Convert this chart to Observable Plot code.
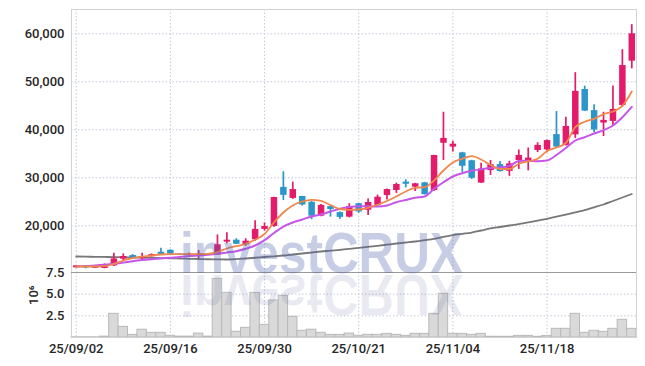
<!DOCTYPE html>
<html>
<head>
<meta charset="utf-8">
<script src="https://cdn.jsdelivr.net/npm/d3@7"></script>
<script src="https://cdn.jsdelivr.net/npm/@observablehq/plot@0.6"></script>
<style>
  html, body { margin: 0; padding: 0; background: #fff; }
  #wrap { position: relative; width: 645px; height: 366px; overflow: hidden; }
  #wrap > svg, #wrap > figure { position: absolute; left: 0; margin: 0; }
  #wm { position: absolute; left: 0; top: 0; pointer-events: none; }
</style>
</head>
<body>
<div id="wrap"></div>
<script>
const dates = ["25/09/02","25/09/03","25/09/04","25/09/05","25/09/08","25/09/09","25/09/10","25/09/11","25/09/12","25/09/15",
  "25/09/16","25/09/17","25/09/18","25/09/19","25/09/22","25/09/23","25/09/24","25/09/25","25/09/26","25/09/29",
  "25/09/30","25/10/01","25/10/02","25/10/10","25/10/13","25/10/14","25/10/15","25/10/16","25/10/17","25/10/20",
  "25/10/21","25/10/22","25/10/23","25/10/24","25/10/27","25/10/28","25/10/29","25/10/30","25/10/31","25/11/03",
  "25/11/04","25/11/05","25/11/06","25/11/07","25/11/10","25/11/11","25/11/12","25/11/13","25/11/14","25/11/17",
  "25/11/18","25/11/19","25/11/20","25/11/21","25/11/24","25/11/25","25/11/26","25/11/27","25/11/28","25/12/01"];

const openP  = [11250,11550,11150,11100,11650,13050,13800,13150,13550,14500,14900,14100,13900,13650,14150,13950,16600,17000,16050,17100,
  19250,19850,28000,25700,26100,24900,22000,24000,22750,21800,24600,23250,24250,26300,27350,29100,28050,28950,27350,37200,
  36400,35200,33550,28900,31500,32750,31350,33600,33250,35700,35800,39000,36750,38950,48400,44000,41400,41750,45050,54300];
const highP  = [11700,11600,11600,12050,14300,14150,14000,14300,14150,15300,15000,14200,14300,14850,14250,18100,18550,17300,17300,21050,
  20600,25950,31250,29100,26150,25050,24450,24100,22850,24600,24650,25600,26400,27650,28900,29600,28850,29050,34700,43650,
  37600,35300,33650,33050,33600,33400,33450,35800,36200,37300,37850,43800,42600,51900,49100,45200,43650,49100,56700,61900];
const lowP   = [11200,11050,11100,11050,11500,12650,13150,12900,13500,13950,14050,13800,13800,13150,13900,13800,16250,16100,15750,16800,
  18900,19700,25250,25500,24100,21250,21900,21800,21300,21650,22600,22150,24100,25400,26750,27900,27150,26400,27150,33600,
  35400,31100,29650,28800,30500,31200,30300,31750,31450,35250,35200,36300,36600,38200,43800,39400,38600,40900,44700,52700];
const closeP = [11650,11200,11500,11800,13100,13600,13250,13600,14000,14000,14100,13900,14100,14150,14000,16050,17000,16150,16800,19250,
  19850,25900,26350,27550,24350,22000,24250,23400,21750,24000,22900,24850,25950,27550,28600,28650,28750,26500,34650,38200,
  37000,32400,29900,31850,32700,31300,32900,34650,34100,36750,37750,36400,40700,48000,43900,39950,41950,44250,53400,60000];

const ma5 = [11520,11520,11520,11580,12080,12770,13290,13600,13810,14020,14120,14080,14080,14080,14170,14540,15270,15750,16250,17080,
  18290,20690,22770,24230,25060,25420,25170,24330,23500,23330,23400,23750,24380,25170,26100,27150,27920,28040,29440,31520,
  33190,33960,34500,33810,32670,31830,31830,32920,33400,33960,35580,36310,37250,40540,41670,42290,43250,43810,44960,47980];
const ma10 = [11520,11620,11730,11880,12080,12350,12620,12880,13040,13190,13350,13500,13710,13810,13960,14170,14440,14710,15210,15900,
  17000,18500,19850,20690,21310,21940,22350,22980,23540,23920,24060,24060,24020,24230,24920,25380,25830,26100,27710,29080,
  30270,30960,31460,31770,32040,32150,32460,33500,33540,33460,33600,34750,36210,37770,38460,39230,39920,40900,42630,44790];
const maLong = [13600,13570,13540,13510,13480,13440,13400,13350,13310,13270,13230,13180,13130,13080,13030,13000,12980,13050,13190,13340,
  13500,13650,13810,14020,14230,14440,14650,14820,15000,15210,15420,15620,15830,16070,16310,16520,16730,17000,17290,17690,
  18080,18340,18600,19020,19440,19750,20060,20370,20690,21070,21460,21900,22350,22820,23290,23860,24440,25170,25900,26630];

const volume = [0.02,0.02,0.02,0.1,2.73,1.23,0.3,0.9,0.54,0.54,0.2,0.1,0.1,0.45,0.1,6.77,5.15,0.66,1.12,5.15,
  1.46,4.27,4.8,2.38,0.77,0.9,0.54,0.3,0.3,0.45,0.2,0.31,0.31,0.42,0.31,0.19,0.42,0.42,2.73,5.04,
  0.42,0.42,0.31,0.42,0.08,0.08,0.08,0.19,0.19,0.08,0.19,1.0,1.0,2.73,0.54,0.77,0.65,1.0,2.04,1.0];

const priceTicks = [20000,30000,40000,50000,60000];
const volTicks = [2.5,5,7.5];
const dateTickIdx = [0,10,20,30,40,50];
const volUnitLabel = "10⁶";
const watermark = "investCRUX";

const UP = "#e41a6b", DOWN = "#2c95c9";
const rows = dates.map((d, i) => ({
  i, date: d, open: openP[i], high: highP[i], low: lowP[i], close: closeP[i],
  vol: volume[i], ma5: ma5[i], ma10: ma10[i], maLong: maLong[i]
}));

const font = "Roboto, 'Liberation Sans', Arial, sans-serif";
const gridColor = "#c5c9da";
const frameColor = "#d2d2d2";
const textStyle = {fontFamily: font, fontSize: "13px", fontWeight: 500, color: "#262626", background: "transparent", overflow: "visible"};

const pricePlot = Plot.plot({
  width: 645, height: 272,
  marginTop: 9, marginBottom: 0, marginLeft: 71, marginRight: 9,
  style: textStyle,
  x: {domain: [-0.5, 59.5], axis: null},
  y: {domain: [10271, 65062], ticks: priceTicks, tickFormat: d3.format(","), tickSize: 0, tickPadding: 7, label: null},
  marks: [
    Plot.ruleX(dateTickIdx, {x: d => d, stroke: gridColor, strokeDasharray: "1.5,2"}),
    Plot.ruleY(priceTicks, {y: d => d, stroke: gridColor, strokeDasharray: "1.5,2"}),
    Plot.frame({stroke: frameColor}),
    Plot.line(rows, {x: "i", y: "maLong", stroke: "#777", strokeWidth: 1.8, curve: "monotone-x"}),
    Plot.ruleX(rows, {x: "i", y1: "low", y2: "high", stroke: d => d.close >= d.open ? UP : DOWN, strokeWidth: 1.7}),
    Plot.ruleX(rows, {x: "i", y1: "open", y2: "close", stroke: d => d.close >= d.open ? UP : DOWN, strokeWidth: 6.5}),
    Plot.line(rows, {x: "i", y: "ma10", stroke: "#c656e8", strokeWidth: 2, curve: "monotone-x"}),
    Plot.line(rows, {x: "i", y: "ma5", stroke: "#f0874c", strokeWidth: 1.8, curve: "monotone-x"})
  ]
});
pricePlot.style.top = "0px";

const volPlot = Plot.plot({
  width: 645, height: 102,
  marginTop: 8, marginBottom: 29, marginLeft: 71, marginRight: 9,
  style: textStyle,
  x: {domain: [-0.5, 59.5], ticks: dateTickIdx, tickFormat: i => dates[i], tickSize: 0, tickPadding: 6, label: null},
  y: {domain: [0, 7.5], ticks: volTicks, tickFormat: d3.format(".1f"), tickSize: 0, tickPadding: 7, label: null},
  marks: [
    Plot.ruleX(dateTickIdx, {x: d => d, stroke: gridColor, strokeDasharray: "1.5,2"}),
    Plot.ruleY([2.5, 5], {y: d => d, stroke: gridColor, strokeDasharray: "1.5,2"}),
    Plot.rectY(rows, {x1: d => d.i - 0.5, x2: d => d.i + 0.5, y: "vol", fill: "#d9d9d9", stroke: "#b9b9b9", strokeWidth: 1}),
    Plot.frame({stroke: frameColor}),
    Plot.ruleY([7.5], {y: d => d, stroke: "#9a9a9a", strokeWidth: 1}),
    Plot.text([volUnitLabel], {text: d => d, frameAnchor: "left", dx: -38, rotate: -90, fontSize: 13, fill: "#262626"})
  ]
});
volPlot.style.top = "264px";

const wrap = document.getElementById("wrap");
wrap.appendChild(pricePlot);
wrap.appendChild(volPlot);

// watermark overlay with its mirrored reflection
const wm = d3.select(wrap).append("svg").attr("id", "wm").attr("width", 645).attr("height", 366);
wm.append("text").text(watermark)
  .attr("x", 180).attr("y", 273)
  .attr("textLength", 283).attr("lengthAdjust", "spacingAndGlyphs")
  .attr("font-family", "'Liberation Sans', Arial, sans-serif").attr("font-weight", "bold").attr("font-size", 57)
  .attr("fill", "rgb(80,100,170)").attr("fill-opacity", 0.32);
wm.append("text").text(watermark)
  .attr("x", 180).attr("y", 273)
  .attr("transform", "translate(0,548) scale(1,-1)")
  .attr("textLength", 283).attr("lengthAdjust", "spacingAndGlyphs")
  .attr("font-family", "'Liberation Sans', Arial, sans-serif").attr("font-weight", "bold").attr("font-size", 57)
  .attr("fill", "rgb(80,90,150)").attr("fill-opacity", 0.13);
</script>
</body>
</html>
